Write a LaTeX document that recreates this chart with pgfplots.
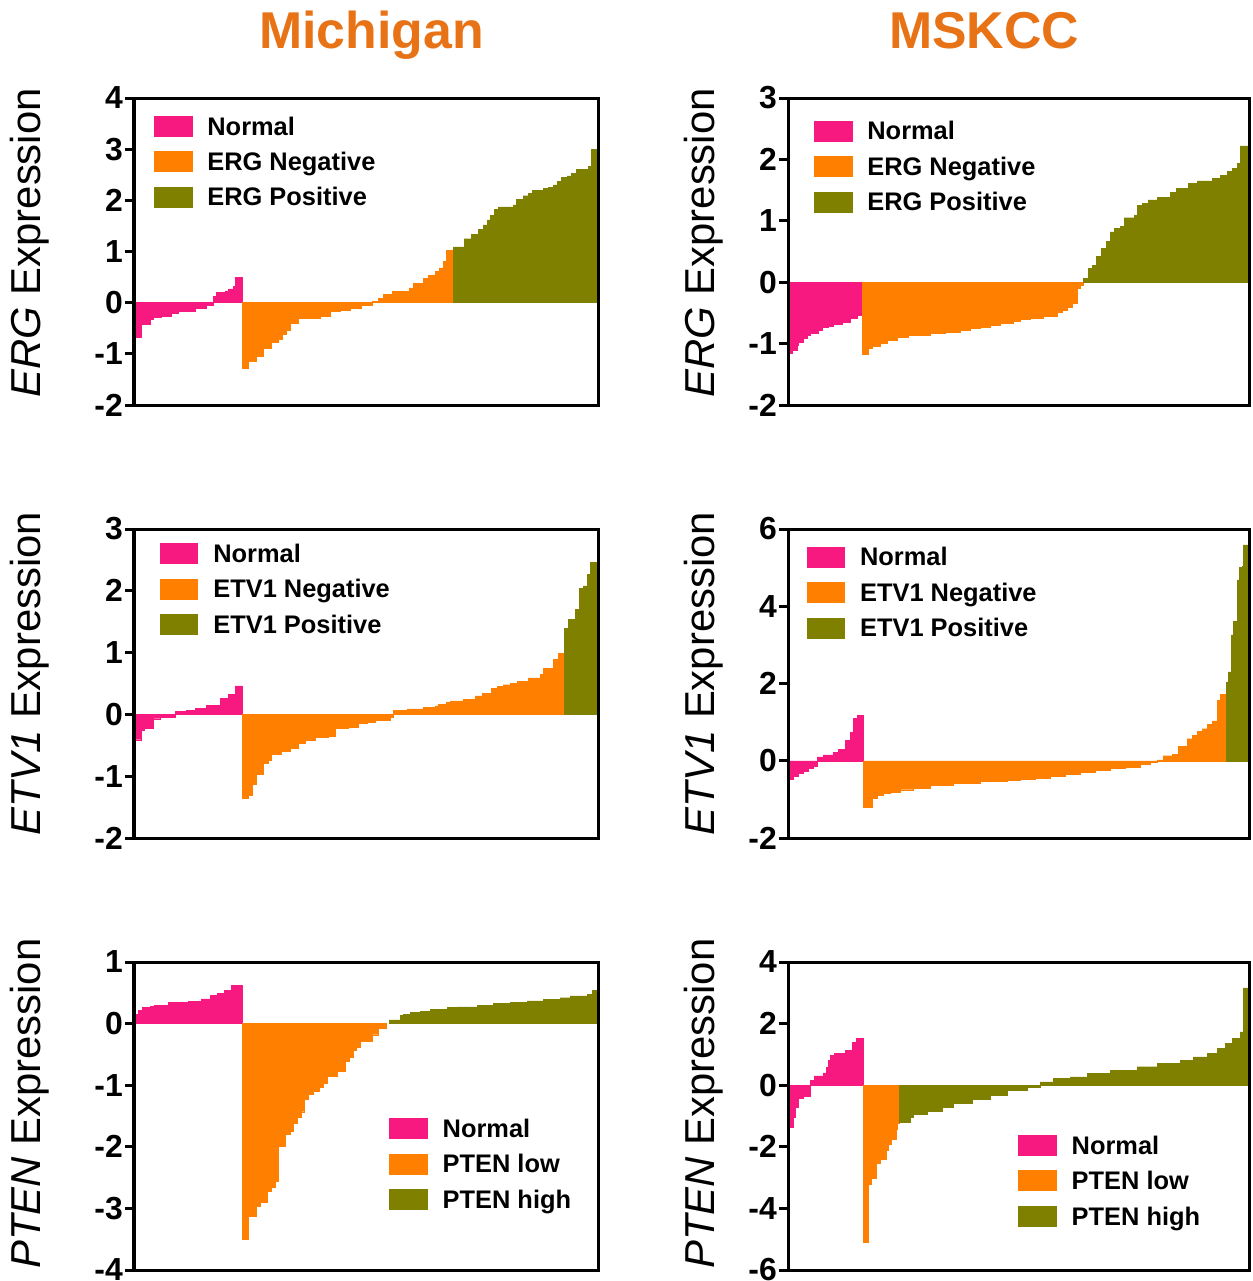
\documentclass[border=0pt]{standalone}
\usepackage{pgfplots}
\pgfplotsset{compat=1.18}
\usepackage{fontspec}
\setmainfont{Liberation Sans}
\definecolor{pinkc}{RGB}{247,25,128}
\definecolor{orangec}{RGB}{255,128,0}
\definecolor{olivec}{RGB}{128,128,0}
\definecolor{titlec}{RGB}{232,114,22}
\pgfplotsset{
 panel/.style={scale only axis, anchor=south west, axis on top,
   axis line style={line width=3bp,black}, xtick=\empty, ytick pos=left,
   tick align=outside, major tick length=9bp, ytick style={line width=3bp,black},
   yticklabel style={font=\bfseries\fontsize{32}{32}\selectfont, inner sep=0pt, xshift=-2bp},
   ylabel style={font=\fontsize{42}{42}\selectfont, inner sep=0pt, anchor=center},
   legend cell align=left,
   legend style={draw=none, fill=none, inner sep=0pt, outer sep=0pt, anchor=north west,
     row sep=15bp, font=\bfseries\fontsize{25.5}{25.5}\selectfont,
     nodes={inner sep=0pt, text height=18bp, text depth=0pt},
     /tikz/every odd column/.append style={column sep=15.5bp}}},
 leftcol/.style={width=464bp, xmin=134, xmax=598, ylabel style={at={(axis description cs:-0.2252,#1)}}},
 rightcol/.style={width=461bp, xmin=788, xmax=1249, ylabel style={at={(axis description cs:-0.1822,#1)}}},
 pinkbar/.style={ybar interval, fill=pinkc, draw=pinkc, line width=0.4bp,
   legend image code/.code={\fill[pinkc] (0bp,-10bp) rectangle (37.5bp,10bp);}},
 orangebar/.style={ybar interval, fill=orangec, draw=orangec, line width=0.4bp,
   legend image code/.code={\fill[orangec] (0bp,-10bp) rectangle (37.5bp,10bp);}},
 olivebar/.style={ybar interval, fill=olivec, draw=olivec, line width=0.4bp,
   legend image code/.code={\fill[olivec] (0bp,-10bp) rectangle (37.5bp,10bp);}},
}
\begin{document}
\begin{tikzpicture}
\useasboundingbox (0,0) rectangle (1253bp,-1281bp);
\node[anchor=base, text=titlec, font=\bfseries\fontsize{52}{52}\selectfont, inner sep=0pt] at (371.5bp,-48bp) {Michigan};
\node[anchor=base, text=titlec, font=\bfseries\fontsize{52}{52}\selectfont, inner sep=0pt] at (984bp,-48bp) {MSKCC};

% Panel 1: Michigan ERG
\begin{axis}[panel, leftcol=0.528, at={(134bp,-405bp)}, height=307bp,
  ymin=-2, ymax=4, ytick={-2,-1,0,1,2,3,4}, yticklabels={-2,-1,0,1,2,3,4},
  ylabel={\textit{ERG} Expression},
  legend style={at={(axis description cs:0.0431,0.9414)}}]
\addplot[pinkbar] coordinates {(134,-0.68)(141,-0.43)(150,-0.33)(153,-0.29)(161,-0.26)(171,-0.21)(178,-0.17)(195,-0.10)(206,-0.05)(213,0.12)(216,0.20)(225,0.23)(228,0.27)(233,0.32)(235,0.49)(242,0)};
\addlegendentry{Normal}
\addplot[orangebar] coordinates {(242,-1.28)(248,-1.15)(256,-1.05)(263,-0.89)(271,-0.77)(278,-0.71)(282,-0.62)(286,-0.53)(290,-0.40)(298,-0.30)(320,-0.27)(330,-0.17)(340,-0.14)(350,-0.10)(361,-0.05)(372,0.03)(378,0.09)(383,0.16)(392,0.22)(409,0.29)(413,0.38)(423,0.48)(428,0.53)(435,0.61)(439,0.68)(443,0.81)(446,1.02)(453,0)};
\addlegendentry{ERG Negative}
\addplot[olivebar] coordinates {(453,1.09)(464,1.25)(471,1.33)(478,1.43)(483,1.52)(487,1.62)(490,1.70)(494,1.82)(498,1.87)(513,1.91)(516,2.02)(523,2.09)(528,2.14)(532,2.19)(543,2.23)(548,2.26)(553,2.30)(557,2.37)(561,2.45)(567,2.48)(571,2.53)(576,2.60)(583,2.61)(588,2.66)(591,3.00)(598,0)};
\addlegendentry{ERG Positive}
\end{axis}

% Panel 2: MSKCC ERG
\begin{axis}[panel, rightcol=0.528, at={(788bp,-405bp)}, height=307bp,
  ymin=-2, ymax=3, ytick={-2,-1,0,1,2,3}, yticklabels={-2,-1,0,1,2,3},
  ylabel={\textit{ERG} Expression},
  legend style={at={(axis description cs:0.0564,0.926)}}]
\addplot[pinkbar] coordinates {(788,-1.16)(792,-1.11)(797,-1.03)(798,-0.97)(803,-0.92)(807,-0.86)(810,-0.83)(818,-0.78)(822,-0.74)(828,-0.71)(833,-0.69)(842,-0.65)(850,-0.59)(857,-0.54)(862,0)};
\addlegendentry{Normal}
\addplot[orangebar] coordinates {(862,-1.17)(868,-1.08)(872,-1.05)(880,-1.00)(887,-0.94)(897,-0.90)(908,-0.86)(930,-0.83)(945,-0.81)(960,-0.78)(970,-0.75)(980,-0.73)(990,-0.70)(1000,-0.67)(1013,-0.63)(1020,-0.61)(1030,-0.58)(1043,-0.55)(1057,-0.49)(1062,-0.45)(1067,-0.41)(1072,-0.35)(1077,-0.10)(1080,-0.05)(1083,0)};
\addlegendentry{ERG Negative}
\addplot[olivebar] coordinates {(1083,0.06)(1088,0.22)(1092,0.28)(1096,0.42)(1101,0.55)(1106,0.66)(1110,0.82)(1114,0.88)(1120,0.91)(1124,1.05)(1134,1.09)(1137,1.25)(1142,1.28)(1148,1.34)(1157,1.38)(1170,1.46)(1176,1.53)(1188,1.61)(1197,1.65)(1212,1.69)(1220,1.74)(1227,1.80)(1232,1.85)(1237,1.94)(1240,2.22)(1249,0)};
\addlegendentry{ERG Positive}
\end{axis}

% Panel 3: Michigan ETV1
\begin{axis}[panel, leftcol=0.532, at={(134bp,-838bp)}, height=309bp,
  ymin=-2, ymax=3, ytick={-2,-1,0,1,2,3}, yticklabels={-2,-1,0,1,2,3},
  ylabel={\textit{ETV1} Expression},
  legend style={at={(axis description cs:0.056,0.9537)}}]
\addplot[pinkbar] coordinates {(134,-0.41)(141,-0.25)(144,-0.22)(153,-0.07)(160,-0.04)(175,0.05)(186,0.07)(195,0.10)(206,0.15)(220,0.26)(228,0.32)(235,0.46)(242,0)};
\addlegendentry{Normal}
\addplot[orangebar] coordinates {(242,-1.35)(248,-1.30)(252,-1.13)(256,-0.97)(263,-0.79)(268,-0.74)(271,-0.65)(281,-0.60)(290,-0.54)(298,-0.47)(305,-0.42)(315,-0.37)(328,-0.35)(335,-0.22)(348,-0.20)(358,-0.15)(367,-0.12)(375,-0.10)(390,-0.05)(393,0.07)(407,0.09)(423,0.11)(435,0.14)(438,0.16)(446,0.20)(450,0.22)(463,0.24)(475,0.30)(482,0.34)(491,0.42)(497,0.45)(503,0.48)(510,0.50)(517,0.54)(528,0.59)(540,0.65)(543,0.74)(553,0.89)(558,0.99)(564,0)};
\addlegendentry{ETV1 Negative}
\addplot[olivebar] coordinates {(564,1.39)(568,1.54)(575,1.70)(579,2.04)(583,2.08)(587,2.27)(590,2.46)(598,0)};
\addlegendentry{ETV1 Positive}
\end{axis}

% Panel 4: MSKCC ETV1
\begin{axis}[panel, rightcol=0.532, at={(788bp,-838bp)}, height=309bp,
  ymin=-2, ymax=6, ytick={-2,0,2,4,6}, yticklabels={-2,0,2,4,6},
  ylabel={\textit{ETV1} Expression},
  legend style={at={(axis description cs:0.0406,0.9427)}}]
\addplot[pinkbar] coordinates {(788,-0.48)(793,-0.39)(798,-0.32)(803,-0.26)(808,-0.19)(813,-0.13)(817,0.10)(823,0.15)(833,0.22)(838,0.30)(845,0.52)(850,0.74)(853,1.09)(857,1.17)(863,0)};
\addlegendentry{Normal}
\addplot[orangebar] coordinates {(863,-1.20)(872,-0.96)(877,-0.90)(883,-0.85)(890,-0.81)(900,-0.75)(913,-0.70)(930,-0.64)(953,-0.59)(980,-0.54)(1007,-0.50)(1020,-0.48)(1035,-0.44)(1050,-0.40)(1065,-0.35)(1080,-0.30)(1095,-0.25)(1110,-0.20)(1125,-0.16)(1140,-0.10)(1150,-0.05)(1157,0.02)(1163,0.13)(1172,0.17)(1178,0.37)(1187,0.57)(1192,0.65)(1197,0.77)(1202,0.83)(1207,0.94)(1212,1.03)(1217,1.57)(1220,1.72)(1226,0)};
\addlegendentry{ETV1 Negative}
\addplot[olivebar] coordinates {(1226,2.04)(1228,2.30)(1231,3.26)(1233,3.61)(1237,4.68)(1239,5.00)(1242,5.04)(1243,5.59)(1249,0)};
\addlegendentry{ETV1 Positive}
\end{axis}

% Panel 5: Michigan PTEN
\begin{axis}[panel, leftcol=0.54, at={(134bp,-1270bp)}, height=308bp,
  ymin=-4, ymax=1, ytick={-4,-3,-2,-1,0,1}, yticklabels={-4,-3,-2,-1,0,1},
  ylabel={\textit{PTEN} Expression},
  legend style={at={(axis description cs:0.5502,0.4925)}}]
\addplot[pinkbar] coordinates {(134,0.15)(138,0.22)(142,0.26)(150,0.28)(154,0.30)(168,0.34)(188,0.36)(201,0.40)(210,0.46)(217,0.49)(224,0.54)(231,0.62)(242,0)};
\addlegendentry{Normal}
\addplot[orangebar] coordinates {(242,-3.50)(248,-3.12)(256,-2.96)(260,-2.90)(267,-2.72)(271,-2.65)(275,-2.56)(278,-1.99)(285,-1.80)(290,-1.75)(293,-1.61)(297,-1.52)(301,-1.43)(304,-1.23)(308,-1.15)(313,-1.10)(319,-1.04)(323,-0.97)(327,-0.85)(337,-0.78)(345,-0.61)(349,-0.54)(353,-0.43)(356,-0.38)(360,-0.29)(372,-0.18)(378,-0.07)(386,0)};
\addlegendentry{PTEN low}
\addplot[olivebar] coordinates {(389,0.06)(400,0.13)(403,0.15)(410,0.18)(420,0.20)(430,0.23)(447,0.26)(457,0.27)(477,0.30)(493,0.33)(510,0.34)(527,0.37)(543,0.39)(560,0.42)(570,0.45)(587,0.47)(592,0.54)(598,0)};
\addlegendentry{PTEN high}
\end{axis}

% Panel 6: MSKCC PTEN
\begin{axis}[panel, rightcol=0.54, at={(788bp,-1270bp)}, height=308bp,
  ymin=-6, ymax=4, ytick={-6,-4,-2,0,2,4}, yticklabels={-6,-4,-2,0,2,4},
  ylabel={\textit{PTEN} Expression},
  legend style={at={(axis description cs:0.4996,0.4383)}}]
\addplot[pinkbar] coordinates {(788,-1.35)(793,-1.03)(795,-0.70)(798,-0.41)(803,-0.35)(810,0.16)(814,0.30)(823,0.40)(826,0.59)(828,0.81)(830,0.97)(834,1.03)(845,1.14)(852,1.39)(856,1.52)(863,0)};
\addlegendentry{Normal}
\addplot[orangebar] coordinates {(863,-5.11)(868,-3.22)(871,-3.03)(876,-2.54)(880,-2.40)(886,-2.11)(888,-1.93)(891,-1.75)(896,-1.43)(897,-1.24)(899,0)};
\addlegendentry{PTEN low}
\addplot[olivebar] coordinates {(899,-1.19)(910,-1.03)(913,-0.95)(927,-0.84)(942,-0.70)(953,-0.59)(972,-0.45)(990,-0.32)(1007,-0.16)(1027,-0.08)(1040,0.11)(1053,0.22)(1070,0.27)(1087,0.38)(1110,0.49)(1137,0.60)(1157,0.70)(1180,0.81)(1193,0.92)(1207,1.03)(1217,1.19)(1225,1.35)(1232,1.52)(1240,1.73)(1243,3.16)(1249,0)};
\addlegendentry{PTEN high}
\end{axis}
\end{tikzpicture}
\end{document}
